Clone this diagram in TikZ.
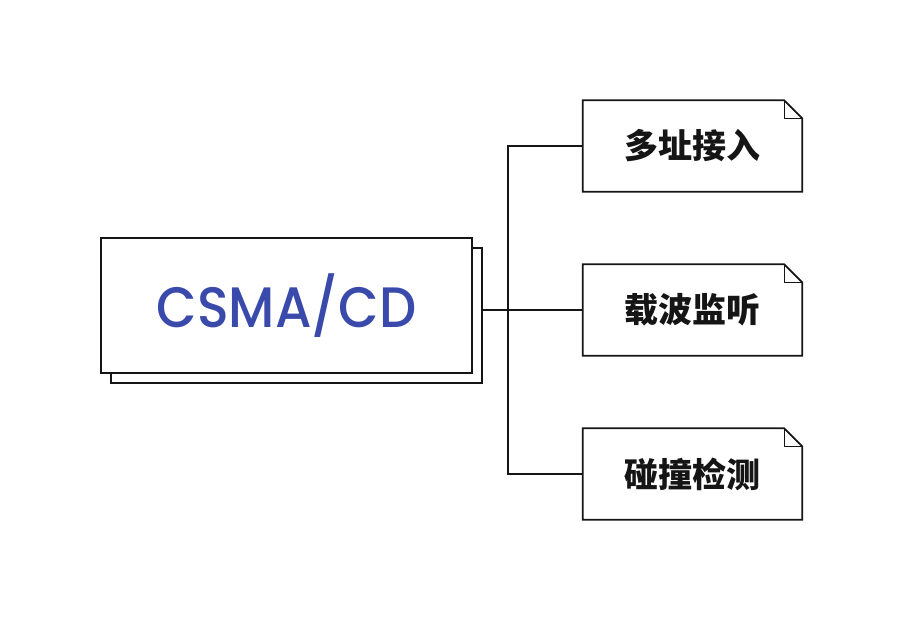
\documentclass[tikz,border=0pt]{standalone}
\usepackage{fontspec}
\IfFontExistsTF{Poppins Medium}
  {\newfontfamily\latinfont{Poppins Medium}[FakeStretch=0.92]}
  {\newfontfamily\latinfont{Poppins}[FakeStretch=0.92,FakeBold=1.5]}
\newfontfamily\cjk{Noto Sans CJK SC}
\definecolor{csmablue}{HTML}{3A4AAB}
\definecolor{ink}{HTML}{151515}
\begin{document}
\begin{tikzpicture}[x=1pt,y=-1pt,
  line/.style={draw=ink,line width=1.8pt},
  mainbox/.style={line,fill=white,minimum width=371pt,minimum height=135pt,inner sep=0pt},
  notebox/.style={minimum width=219pt,minimum height=91pt,inner sep=0pt,font=\cjk\bfseries\fontsize{34}{34}\selectfont,text=ink},
  conn/.style={draw=ink,line width=1.6pt}]
\useasboundingbox (0,0) rectangle (902,620);
\node[mainbox] (back) at (296.5,315.5) {};
\node[mainbox,font=\latinfont\fontsize{57}{57}\selectfont,text=csmablue] (main) at (286.5,305.5) {CSMA/CD};
\foreach \n/\y/\t in {n1/146/多址接入, n2/310/载波监听, n3/474/碰撞检测}{
  \node[notebox] (\n) at (692.5,\y) {\t};
  \draw[line,line join=miter] (\n.north west) -- ([xshift=-18pt]\n.north east) -- ([yshift=-18pt]\n.north east) -- (\n.south east) -- (\n.south west) -- cycle;
  \draw[draw=ink,line width=1.2pt] ([xshift=-18pt]\n.north east) |- ([yshift=-18pt]\n.north east);
}
\coordinate (sp) at (508,310);
\draw[conn] (back.east |- sp) -- (sp);
\draw[conn] (n1.west) -| (sp) |- (n3.west);
\draw[conn] (sp) -- (sp -| n2.west);
\end{tikzpicture}
\end{document}
